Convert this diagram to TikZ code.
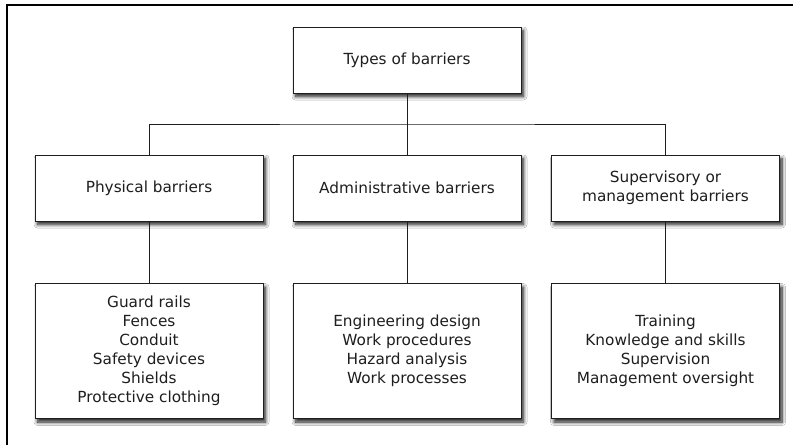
\documentclass[tikz,border=0pt]{standalone}
\usepackage{fontspec}
\setmainfont{DejaVu Sans}
\usetikzlibrary{shadows.blur}
\definecolor{txt}{HTML}{1E1E1E}
\definecolor{ln}{HTML}{1E1E1E}
\tikzset{
  box/.style={draw=ln, line width=1pt, fill=white, minimum width=228pt, align=center,
    text=txt, font=\fontsize{15.3}{19}\selectfont,
    blur shadow={shadow xshift=2.5pt, shadow yshift=-3.5pt, shadow blur steps=8, shadow blur radius=3.5pt, shadow opacity=90}},
  conn/.style={draw=ln, line width=1pt},
}
\begin{document}
\begin{tikzpicture}[x=1pt,y=-1pt]
\useasboundingbox (0,0) rectangle (793,445);
\fill[white] (0,0) rectangle (793,445);
\draw[line width=1.8pt, black] (7,445) -- (7,5) -- (793,5);
\node[box, minimum height=66pt] (top) at (407,60) {Types of barriers};
\node[box, minimum height=66pt] (phys) at (149,188) {Physical barriers};
\node[box, minimum height=66pt] (adm) at (407,188) {Administrative barriers};
\node[box, minimum height=66pt] (sup) at (665.5,188) {Supervisory or\\management barriers};
\node[box, minimum height=135pt] (physl) at (149,351) {Guard rails\\Fences\\Conduit\\Safety devices\\Shields\\Protective clothing};
\node[box, minimum height=135pt] (adml) at (407,351) {Engineering design\\Work procedures\\Hazard analysis\\Work processes};
\node[box, minimum height=135pt] (supl) at (665.5,351) {Training\\Knowledge and skills\\Supervision\\Management oversight};
\coordinate (hy) at (0,124);
\draw[conn] (top.south) -- (adm.north);
\draw[conn] (phys.north) |- (hy -| adm.north) -| (sup.north);
\draw[conn] (phys.south) -- (physl.north);
\draw[conn] (adm.south) -- (adml.north);
\draw[conn] (sup.south) -- (supl.north);
\end{tikzpicture}
\end{document}
